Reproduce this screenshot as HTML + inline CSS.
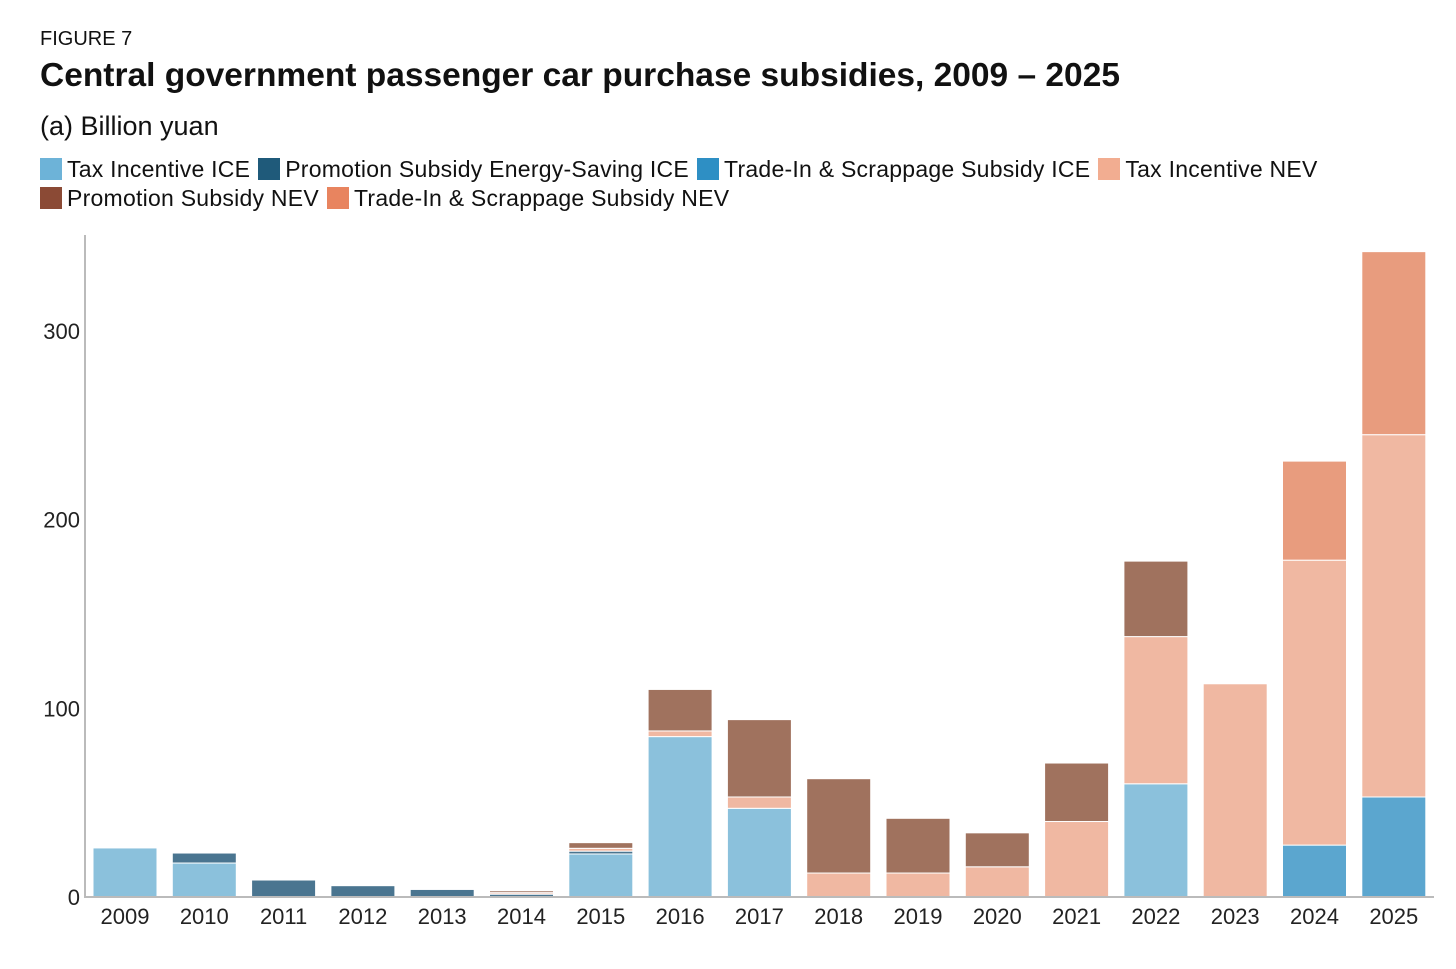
<!DOCTYPE html>
<html><head><meta charset="utf-8"><style>
body{margin:0;background:#fff;font-family:"Liberation Sans",sans-serif;color:#111;}
.wrap{position:relative;width:1456px;height:969px;overflow:hidden;}
.fig{position:absolute;left:40px;top:28px;font-size:20px;}
.title{position:absolute;left:40px;top:57px;font-size:33.5px;font-weight:bold;}
.sub{position:absolute;left:40px;top:111px;font-size:27px;}
.legend{position:absolute;left:40px;top:155px;width:1400px;font-size:23px;line-height:29px;letter-spacing:0.25px;}
.li{display:inline-block;margin-right:8px;white-space:nowrap;}
.sw{display:inline-block;width:22px;height:22px;vertical-align:-3px;margin-right:5px;}
svg{position:absolute;left:0;top:0;}
</style></head><body>
<div class="wrap">
<div class="fig">FIGURE 7</div>
<div class="title">Central government passenger car purchase subsidies, 2009 – 2025</div>
<div class="sub">(a) Billion yuan</div>
<div class="legend">
<span class="li"><span class="sw" style="background:#6db3d8"></span>Tax Incentive ICE</span><span class="li"><span class="sw" style="background:#1f5a7a"></span>Promotion Subsidy Energy-Saving ICE</span><span class="li"><span class="sw" style="background:#2e8fc4"></span>Trade-In &amp; Scrappage Subsidy ICE</span><span class="li"><span class="sw" style="background:#f2ad91"></span>Tax Incentive NEV</span><br><span class="li"><span class="sw" style="background:#8b4a35"></span>Promotion Subsidy NEV</span><span class="li"><span class="sw" style="background:#e8845f"></span>Trade-In &amp; Scrappage Subsidy NEV</span>
</div>
<svg id="c" width="1456" height="969"></svg>
</div>
<script>
const years=[2009,2010,2011,2012,2013,2014,2015,2016,2017,2018,2019,2020,2021,2022,2023,2024,2025];
const taxICE=[26,18,0,0,0,0,22.8,85,47,0,0,0,0,60,0,0,0];
const promoES=[0,5.3,9,6,4,1.5,1.5,0,0,0,0,0,0,0,0,0,0];
const tradeICE=[0,0,0,0,0,0,0,0,0,0,0,0,0,0,0,27.5,53];
const taxNEV=[0,0,0,0,0,0.8,1.5,3,6,12.7,12.7,16,40,78,113,151,192];
const promoNEV=[0,0,0,0,0,1,3,22,41,50,29,18,31,40,0,0,0];
const tradeNEV=[0,0,0,0,0,0,0,0,0,0,0,0,0,0,0,52.5,97];
const series=[[taxICE,'#8bc1dc','tax-incentive-ice'],[promoES,'#4a7590','promotion-es-ice'],[tradeICE,'#5ba6cf','tradein-ice'],[taxNEV,'#f0b8a2','tax-incentive-nev'],[promoNEV,'#a0725e','promotion-nev'],[tradeNEV,'#e89c7e','tradein-nev']];
const yTicks=[0,100,200,300];
const svg=document.getElementById('c');const NS='http://www.w3.org/2000/svg';
const y=v=>897-v*1.887;
const x=i=>125+i*79.3;
function mk(t,a){const e=document.createElementNS(NS,t);for(const k in a)e.setAttribute(k,a[k]);svg.appendChild(e);return e;}
yTicks.forEach(v=>{const t=mk('text',{x:80,y:y(v)+8,'text-anchor':'end','font-size':22,fill:'#222','font-family':'Liberation Sans, sans-serif'});t.textContent=v;

});
years.forEach((yr,i)=>{let base=0;series.forEach(s=>{const v=s[0][i];if(v>0){const r=mk('rect',{x:x(i)-32,y:y(base+v),width:64,height:y(base)-y(base+v),fill:s[1],stroke:'#fff','stroke-width':1});

base+=v;}});
const t=mk('text',{x:x(i),y:924,'text-anchor':'middle','font-size':22,fill:'#222','font-family':'Liberation Sans, sans-serif'});t.textContent=yr;

});
const ax=mk('line',{x1:85,y1:235,x2:85,y2:898,stroke:'#bbb','stroke-width':2});


const bx=mk('line',{x1:84,y1:897,x2:1434,y2:897,stroke:'#bbb','stroke-width':2});


</script>
</body></html>
